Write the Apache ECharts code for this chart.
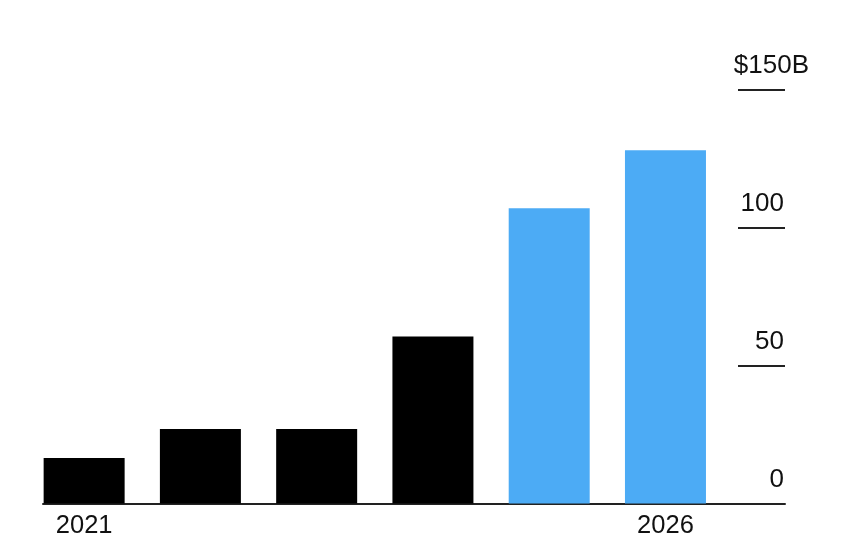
<!DOCTYPE html>
<html>
<head>
<meta charset="utf-8">
<script src="https://cdn.jsdelivr.net/npm/echarts@6/dist/echarts.min.js"></script>
<style>
html,body{margin:0;padding:0;background:#fff;}
#chart{width:854px;height:540px;}
</style>
</head>
<body>
<div id="chart"></div>
<script>
const years = ['2021', '2022', '2023', '2024', '2025', '2026'];
const shownYearLabels = ['2021', '2026'];
const values = [16.5, 27, 27, 60.5, 107, 128];
const isProjected = [false, false, false, false, true, true];
const yTicks = [0, 50, 100, 150];
const yTopLabel = '$150B';

const chart = echarts.init(document.getElementById('chart'), null, {renderer: 'canvas'});
const FONT = "'Liberation Sans', Arial, Helvetica, sans-serif";

const option = {
  backgroundColor: '#ffffff',
  animation: false,
  grid: [
    {left: 26, right: 130.4, top: 89.5, bottom: 36.5},
    {left: 43, right: 69, top: 89.5, bottom: 36.5}
  ],
  xAxis: [
    {
      type: 'category', gridIndex: 0, data: years,
      axisLine: {show: false}, axisTick: {show: false},
      axisLabel: {
        interval: 0, margin: 9,
        fontFamily: FONT, fontSize: 25.5, color: '#111',
        formatter: v => shownYearLabels.includes(v) ? v : ''
      },
      splitLine: {show: false}
    },
    {
      type: 'category', gridIndex: 1, data: [''],
      axisLine: {show: true, lineStyle: {color: '#222', width: 2}},
      axisTick: {show: false}, axisLabel: {show: false}, splitLine: {show: false}
    }
  ],
  yAxis: [
    {
      type: 'value', gridIndex: 0, min: yTicks[0], max: yTicks[yTicks.length - 1],
      show: false
    },
    {
      type: 'value', gridIndex: 1, position: 'right',
      min: yTicks[0], max: yTicks[yTicks.length - 1], interval: 50,
      axisLine: {show: false},
      axisTick: {show: true, inside: true, length: 47, lineStyle: {color: '#222', width: 2}},
      splitLine: {show: false},
      axisLabel: {
        inside: true, margin: -24, verticalAlign: 'bottom', align: 'right',
        formatter: v => v === yTicks[yTicks.length - 1] ? '{t|' + yTopLabel + '}' : '{n|' + v + '}',
        rich: {
          n: {fontFamily: FONT, fontSize: 26, lineHeight: 26, color: '#111', padding: [0, 25, 22, 0]},
          t: {fontFamily: FONT, fontSize: 26, lineHeight: 26, color: '#111', padding: [0, 0, 22, 0]}
        }
      }
    }
  ],
  series: [
    {
      type: 'bar', xAxisIndex: 0, yAxisIndex: 0, barWidth: 81,
      data: values.map((v, i) => ({
        value: v,
        itemStyle: {color: isProjected[i] ? '#4cabf5' : '#000000'}
      }))
    }
  ]
};
chart.setOption(option);
</script>
</body>
</html>
